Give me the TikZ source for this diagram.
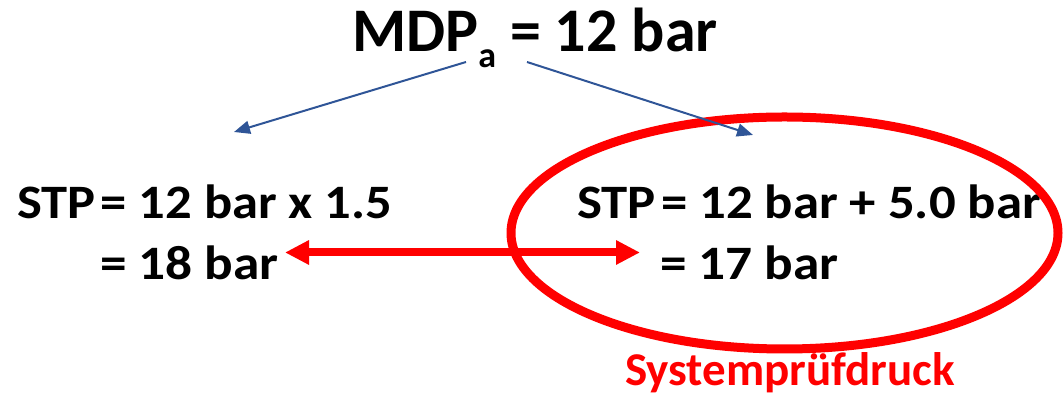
\documentclass[tikz,border=0pt]{standalone}
\usepackage{graphicx}
\usepackage{fontspec}
\setmainfont{Carlito}
\usetikzlibrary{arrows.meta}
\definecolor{arrowblue}{HTML}{2F5597}
\definecolor{pred}{HTML}{FF0000}
\newcommand{\widetxt}[2]{\scalebox{#1}[1]{#2}}
\tikzset{
  txt/.style={inner sep=0pt, outer sep=0pt, anchor=base west, font=\bfseries\fontsize{48}{48}\selectfont},
  lbl/.style={inner sep=0pt, outer sep=0pt, anchor=base west, text=pred, font=\bfseries\fontsize{47}{47}\selectfont},
  title/.style={inner sep=0pt, outer sep=0pt, anchor=base west, font=\bfseries\fontsize{62}{62}\selectfont},
  bluearrow/.style={draw=arrowblue, line width=2pt, -{Triangle[length=16pt,width=13pt]}},
  redarrow/.style={draw=pred, line width=8pt, {Triangle[length=24pt,width=23pt]}-{Triangle[length=24pt,width=23pt]}},
  ring/.style={draw=pred, line width=9pt},
}
\begin{document}
\begin{tikzpicture}[x=1pt,y=1pt]
\useasboundingbox (0,0) rectangle (1063,398);
% title
\node[title] (mdp) at (352,346.3) {MDP\raisebox{-16pt}{\fontsize{36}{36}\selectfont a} = 12 bar};
% left texts
\node[txt] (stpL) at (17,179) {\widetxt{1.095}{STP\hspace{5pt}= 12 bar x 1.5}};
\node[txt] (resL) at (100,118) {\widetxt{1.11}{= 18 bar}};
% right texts
\node[txt] (stpR) at (577,179) {\widetxt{1.10}{STP\hspace{5pt}= 12 bar + 5.0 bar}};
\node[txt] (resR) at (660,118) {\widetxt{1.11}{= 17 bar}};
% label
\node[lbl] (sys) at (625,12) {Systemprüfdruck};
% ellipse
\draw[ring] (784.5,165) ellipse [x radius=273.5, y radius=116];
% blue arrows
\coordinate (bsL) at (466,336);
\coordinate (bsR) at (527,336);
\coordinate (beL) at (234,266);
\coordinate (beR) at (753,263);
\draw[bluearrow] (bsL) -- (beL);
\draw[bluearrow] (bsR) -- (beR);
% red double arrow
\coordinate (rL) at (285,145.5);
\coordinate (rR) at (640,145.5);
\draw[redarrow] (rL) -- (rR);
\end{tikzpicture}
\end{document}
